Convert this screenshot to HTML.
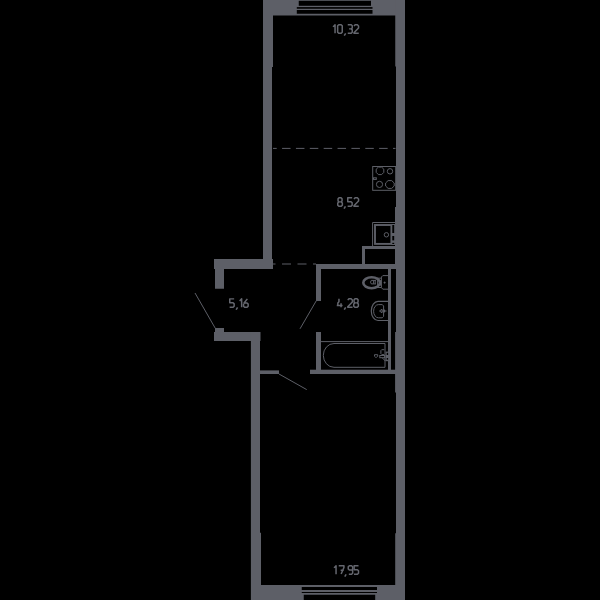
<!DOCTYPE html>
<html><head><meta charset="utf-8">
<style>
html,body{margin:0;padding:0;background:#000;width:600px;height:600px;overflow:hidden}
svg{display:block}
.t{font-family:"Liberation Sans",sans-serif;fill:#6b6d76}
</style></head><body>
<svg width="600" height="600" viewBox="0 0 600 600">
<rect width="600" height="600" fill="#000"/>
<g fill="#5d5f67">
<!-- top wall -->
<rect x="263" y="0" width="142" height="15.5"/>
<!-- left upper wall -->
<rect x="263" y="0" width="10" height="67"/>
<rect x="263" y="67" width="9" height="202"/>
<!-- right outer wall -->
<path d="M395.25,0 H405 V600 H395.2 V533.25 H396 V392.5 H395.1 V332 H396 V266 H395 V207 H396 V66.5 H395.25 Z"/>
<!-- hall top horizontal -->
<rect x="214" y="259" width="59" height="10"/>
<rect x="215" y="268" width="9" height="20.75"/>
<!-- lower stub & horizontal -->
<rect x="215" y="328" width="9" height="5"/>
<rect x="214" y="332" width="46.5" height="9"/>
<!-- living left wall -->
<path d="M250.9,332 H260 V532.75 H261 V600 H250.9 Z"/>
<!-- bottom wall -->
<rect x="251" y="585" width="154" height="15"/>
<!-- living door stub -->
<rect x="260" y="370.4" width="19" height="3.6"/>
<!-- bathroom bottom -->
<rect x="310" y="369.7" width="86" height="4.3"/>
<!-- bathroom left -->
<rect x="316" y="264" width="5" height="37"/>
<rect x="316" y="332" width="5" height="42"/>
<!-- bathroom top -->
<rect x="316" y="264" width="80" height="5"/>
<!-- bathroom right thin -->
<rect x="388" y="269" width="3" height="101"/>
<!-- shaft box -->
<rect x="362" y="246" width="34" height="3"/>
<rect x="362" y="246" width="3" height="18"/>
</g>
<!-- windows -->
<g fill="#000">
<rect x="298.75" y="0.8" width="72.25" height="5"/>
<rect x="296.8" y="7.1" width="75.7" height="1.65"/>
<rect x="296.8" y="10" width="75.7" height="3.75"/>
<rect x="301.75" y="587" width="75.25" height="3"/>
<rect x="301.75" y="592" width="75.25" height="1"/>
<rect x="303.75" y="594.75" width="71.45" height="5.25"/>
</g>
<!-- dashed lines -->
<g stroke="#5d5f67" stroke-width="1" fill="none">
<line x1="273" y1="148.4" x2="395.5" y2="148.4" stroke-dasharray="8.5 5.37" stroke-dashoffset="4.8"/>
<line x1="273" y1="264" x2="316" y2="264" stroke-dasharray="9 6.5" stroke-dashoffset="6.5"/>
<!-- doors -->
<line x1="195" y1="293" x2="215.3" y2="328.3"/>
<line x1="316.25" y1="300.8" x2="300" y2="328.8"/>
<line x1="279" y1="374" x2="306.7" y2="389.6"/>
</g>
<!-- labels -->
<g class="lbl" fill="none" stroke="#64666e" stroke-width="1.5" stroke-linejoin="round">
<path transform="translate(333.05,24.75) scale(1,0.965)" d="M0,2.2 L2,0 V8.8"/>
<path transform="translate(337.65,24.75) scale(1,0.965)" d="M1.1,0 H3.5 L4.6,1.1 V7.7 L3.5,8.8 H1.1 L0,7.7 V1.1 Z"/>
<path transform="translate(344.25,24.75) scale(1,0.965)" d="M1.4,8.9 L0,11.3"/>
<path transform="translate(347.75,24.75) scale(1,0.965)" d="M0,0 H3.5 L4.5,1 V3.4 L3.5,4.3 H1.3 M3.5,4.3 L4.5,5.3 V7.8 L3.5,8.8 H0"/>
<path transform="translate(353.95,24.75) scale(1,0.965)" d="M0,1.4 L1.2,0 H3.4 L4.6,1.2 V3.3 L0,8.2 V8.8 H4.8"/>
<path transform="translate(337.75,197.75) scale(1,0.965)" d="M1.3,0 H3.3 L4.3,1.1 V3.3 L3.4,4.3 H1.2 L0.3,3.3 V1.1 Z M1.1,4.3 L0,5.4 V7.7 L1.1,8.8 H3.5 L4.6,7.7 V5.4 L3.5,4.3"/>
<path transform="translate(344.05,197.75) scale(1,0.965)" d="M1.4,8.9 L0,11.3"/>
<path transform="translate(347.65,197.75) scale(1,0.965)" d="M4.5,0 H0.1 V4.1 H3.4 L4.5,5.2 V7.7 L3.4,8.8 H0"/>
<path transform="translate(353.95,197.75) scale(1,0.965)" d="M0,1.4 L1.2,0 H3.4 L4.6,1.2 V3.3 L0,8.2 V8.8 H4.8"/>
<path transform="translate(336.75,298.75) scale(1,0.965)" d="M2.2,0 V3.2 L1.1,4.4 V6.9 M0,6.9 H5.8 M4.3,4.6 V8.8"/>
<path transform="translate(344.25,298.75) scale(1,0.965)" d="M1.4,8.9 L0,11.3"/>
<path transform="translate(347.75,298.75) scale(1,0.965)" d="M0,1.4 L1.2,0 H3.4 L4.6,1.2 V3.3 L0,8.2 V8.8 H4.8"/>
<path transform="translate(353.75,298.75) scale(1,0.965)" d="M1.3,0 H3.3 L4.3,1.1 V3.3 L3.4,4.3 H1.2 L0.3,3.3 V1.1 Z M1.1,4.3 L0,5.4 V7.7 L1.1,8.8 H3.5 L4.6,7.7 V5.4 L3.5,4.3"/>
<path transform="translate(229.65,298.85) scale(1,0.965)" d="M4.5,0 H0.1 V4.1 H3.4 L4.5,5.2 V7.7 L3.4,8.8 H0"/>
<path transform="translate(236.15,298.85) scale(1,0.965)" d="M1.4,8.9 L0,11.3"/>
<path transform="translate(239.65,298.85) scale(1,0.965)" d="M0,2.2 L2,0 V8.8"/>
<path transform="translate(243.55,298.85) scale(1,0.965)" d="M3.8,0 L0.3,4.6 M0,5.4 L1.1,4.3 H3.5 L4.6,5.4 V7.7 L3.5,8.8 H1.1 L0,7.7 V5.4"/>
<path transform="translate(334.05,565.75) scale(1,0.965)" d="M0,2.2 L2,0 V8.8"/>
<path transform="translate(338.75,565.75) scale(1,0.965)" d="M0,0 H5.2 V1.8 L2.4,8.6 M1.9,4.6 H5"/>
<path transform="translate(344.75,565.75) scale(1,0.965)" d="M1.4,8.9 L0,11.3"/>
<path transform="translate(348.25,565.75) scale(1,0.965)" d="M4.4,4.5 H1.1 L0,3.4 V1.1 L1.1,0 H3.3 L4.4,1.1 V7.7 L3.3,8.8 H0.6"/>
<path transform="translate(354.00,565.75) scale(1,0.965)" d="M4.5,0 H0.1 V4.1 H3.4 L4.5,5.2 V7.7 L3.4,8.8 H0"/>
</g>
<!-- fixtures -->
<g stroke="#5d5f67" fill="none" stroke-width="1">
<!-- stove -->
<rect x="372.7" y="166.5" width="23" height="23.8"/>
<polygon points="378.4,167.1 381.6,167.1 383.8,169.2 383.8,172.4 381.6,174.6 378.4,174.6 376.2,172.4 376.2,169.2"/>
<circle cx="390" cy="171.3" r="2.7"/>
<circle cx="379.5" cy="184.4" r="3.1"/>
<polygon points="388.1,180.6 391.7,180.6 394.2,183 394.2,186 391.7,188.4 388.1,188.4 385.6,186 385.6,183"/>
<rect x="373.5" y="177.8" width="2.8" height="1.6"/>
<!-- sink -->
<polyline points="395.5,222.5 372.6,222.5 372.6,246"/>
<rect x="375" y="225" width="16.4" height="18.9" stroke-width="1.9"/>
<rect x="391.6" y="224" width="4.2" height="21" fill="#5d5f67" stroke="none"/>
<rect x="392.3" y="225" width="1.9" height="8" fill="#000" stroke="none"/>
<rect x="392.3" y="236" width="1.9" height="4.4" fill="#000" stroke="none"/>
<rect x="392.3" y="242.8" width="1.9" height="1.2" fill="#000" stroke="none"/>
<circle cx="386.4" cy="234.8" r="2.2"/>
<!-- toilet -->
<polyline points="388,275.6 382.8,275.6 381.4,277 381.4,287.6 382.8,289.2 388,289.2"/>
<ellipse cx="371.6" cy="282.8" rx="8.3" ry="5.5" stroke-width="2.6"/>
<line x1="376.5" y1="278.2" x2="381.4" y2="278.2"/>
<line x1="376.5" y1="287.5" x2="381.4" y2="287.5"/>
<rect x="377.6" y="280.6" width="2.8" height="4.6"/>
<path d="M376,280.4 L371.3,280.4 Q369.7,282.1 371.3,283.9 L376,283.9"/>
<line x1="373.6" y1="280.6" x2="373.6" y2="283.8"/>
<line x1="375.2" y1="280.6" x2="375.2" y2="283.8"/>
<line x1="384.6" y1="281.6" x2="384.6" y2="283.6"/>
<line x1="383.6" y1="282.6" x2="385.6" y2="282.6"/>
<!-- washbasin -->
<path d="M388,301.3 L378,301.3 A6.7 9.6 0 0 0 378,320.5 L388,320.5" stroke-width="1.2"/>
<path d="M378.4,304.6 L382.3,304.6 L383.6,306 V316.4 L382.3,317.8 L378.4,317.8 A4.8 6.6 0 0 1 378.4,304.6 Z"/>
<path d="M379.5,311 L382,309.2 L382,312.8 Z M382,311 L386.5,311 M384.5,309.6 L384.5,312.4"/>
<!-- bathtub -->
<line x1="321" y1="341.6" x2="388" y2="341.6"/>
<path d="M385,343.5 L334,343.5 A10.7 11.9 0 0 0 334,367.3 L385,367.3 Z"/>
<path d="M384.2,349.7 H381.7 L380.9,350.6 V353.6 L381.9,354.6 H384.2"/>
<rect x="379.8" y="355.5" width="4.8" height="2.2"/>
<rect x="385.6" y="351.6" width="2.6" height="9.6" fill="#5d5f67" stroke="none"/>
<rect x="386.7" y="352.8" width="1.4" height="2.2" fill="#000" stroke="none"/>
<rect x="386.7" y="358" width="1.4" height="1.7" fill="#000" stroke="none"/>
<line x1="382.4" y1="358" x2="385.4" y2="361"/>
<path d="M374.5,354.7 H377.7 V356.3 L376.4,357.3 H375.6 L374.5,356.3 Z"/>
</g>
</svg>
</body></html>
